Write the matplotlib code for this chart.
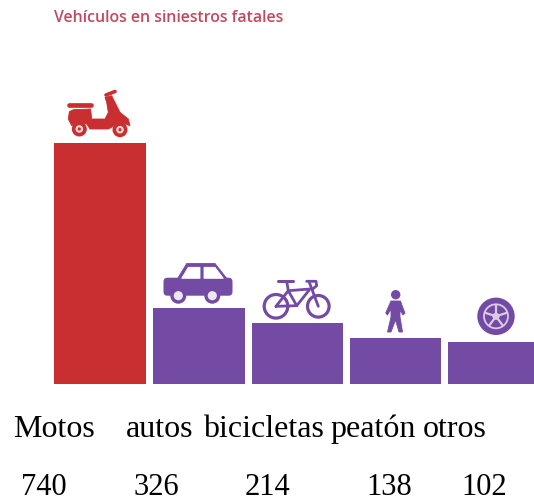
import matplotlib
matplotlib.use('Agg')
import matplotlib.pyplot as plt
from matplotlib.patches import Circle, Polygon, FancyBboxPatch

# --- Datos ---
categorias = ['Motos', 'autos', 'bicicletas', 'peatón', 'otros']
valores = ['740', '326', '214', '138', '102']
# la altura de las barras en la imagen no es proporcional a los valores
alturas = [241, 76, 61, 46, 42]
titulo = 'Vehículos en siniestros fatales'

ROJO = '#C92F30'
MORADO = '#734AA4'
BASE = 385  # pixel de la base de las barras

izq = [54, 152.5, 251.5, 350, 447.5]
anchos = [92, 92, 91.5, 91, 86.5]
colores = [ROJO, MORADO, MORADO, MORADO, MORADO]
x_cat = [53.5, 160, 263, 373.5, 454.5]
x_val = [44, 156, 267, 389.5, 484.5]

fig = plt.figure(figsize=(5.34, 5.02), dpi=100)
ax = fig.add_axes([0, 0, 1, 1])
ax.set_xlim(0, 534)
ax.set_ylim(BASE - 502, BASE)
ax.axis('off')

ax.bar(izq, alturas, width=anchos, align='edge', color=colores, linewidth=0)


def Y(py):
    return BASE - py


def poli(puntos, color):
    ax.add_patch(Polygon([(x, Y(y)) for x, y in puntos], closed=True, fc=color, ec=color, lw=0.6, joinstyle='round'))


def circulo(x, y, r, color):
    ax.add_patch(Circle((x, Y(y)), r, fc=color, ec='none'))


def linea(xs, ys, color, lw):
    ax.plot(xs, [Y(y) for y in ys], color=color, lw=lw, solid_capstyle='round', solid_joinstyle='round')


# --- Iconos ---
# moto
moto = [(88, 128), (100, 122), (152, 120), (155, 150), (195, 150), (205, 130), (200, 100), (195, 85),
        (215, 80), (240, 130), (265, 150), (270, 170), (255, 165), (235, 160), (215, 175), (205, 180),
        (150, 180), (140, 165), (115, 160), (95, 170), (85, 150)]
poli([(40 + a / 3, 70 + b / 3) for a, b in moto], ROJO)
linea([106, 115], [96, 92.5], ROJO, 2.6)
linea([69, 91], [106, 106], ROJO, 3.4)
for cx, cy in [(79.3, 130), (120, 130.7)]:
    circulo(cx, cy, 7.5, ROJO)
    circulo(cx, cy, 3.8, '#F3D5D5')
    circulo(cx, cy, 1.6, ROJO)

# auto
ax.add_patch(FancyBboxPatch((163.5, Y(296.7)), 69, 18, boxstyle='round,pad=0,rounding_size=4', fc=MORADO, ec='none'))
poli([(176.7, 281), (186.7, 264.5), (215, 264.5), (228, 281), (228, 290), (176.7, 290)], MORADO)
poli([(181.7, 279.3), (188.3, 268.3), (200, 268.3), (200, 279.3)], 'white')
poli([(204, 268.3), (215, 268.3), (223.3, 279.3), (204, 279.3)], 'white')
for cx in [178.3, 212.3]:
    circulo(cx, 296.7, 8, MORADO)
    circulo(cx, 296.7, 4.6, '#EDE7F3')

# bicicleta
ax.add_patch(Circle((276, Y(307.3)), 11.8, fc='none', ec=MORADO, lw=2.3))
ax.add_patch(Circle((318.3, Y(307.3)), 10.8, fc='none', ec=MORADO, lw=2.3))
linea([276, 288.3, 296.7, 276], [307.3, 291.7, 306.7, 307.3], MORADO, 2)
linea([288.3, 310, 296.7], [291.7, 290, 306.7], MORADO, 2)
linea([318.3, 309.3], [307.3, 283.3], MORADO, 2)
linea([286.7, 288.3], [282.3, 291.7], MORADO, 2)
linea([278.3, 293.3], [282.3, 282.3], MORADO, 2.2)
linea([306.7, 316, 316.7, 312.7], [282.3, 282.3, 286.7, 290], MORADO, 2)

# peatón
circulo(395.7, 295.7, 4.7, MORADO)
poli([(391, 302), (400.5, 302), (403, 309), (405, 314), (403, 316), (400, 311), (400, 318),
      (402.5, 333), (399, 333), (395.5, 321), (391, 333), (387.5, 333), (391, 318), (391, 310),
      (387.5, 316), (385.7, 314)], MORADO)

# rueda
CLARO = '#D9CBE6'
circulo(496, 317.3, 18.7, MORADO)
ax.add_patch(Circle((496, Y(317.3)), 12, fc='none', ec=CLARO, lw=1.3))
for dx, dy in [(0, -11), (10.5, -3.4), (6.5, 8.9), (-6.5, 8.9), (-10.5, -3.4)]:
    linea([496, 496 + dx], [317.3, 317.3 + dy], CLARO, 1.6)
circulo(496, 317.3, 3.6, CLARO)
circulo(496, 317.3, 1.4, MORADO)

# --- Textos ---
ax.text(54.5, Y(17.7), titulo, family='Open Sans', fontweight='semibold', fontsize=11.4,
        color='#C24A5E', va='center', ha='left')
for x, t in zip(x_cat, categorias):
    ax.text(x, Y(437), t, family='Liberation Serif', fontsize=23, color='black', va='baseline', ha='center')
for x, t in zip(x_val, valores):
    ax.text(x, Y(495), t, family='Liberation Serif', fontsize=22, color='black', va='baseline', ha='center')

fig.savefig('out.png', dpi=100)
